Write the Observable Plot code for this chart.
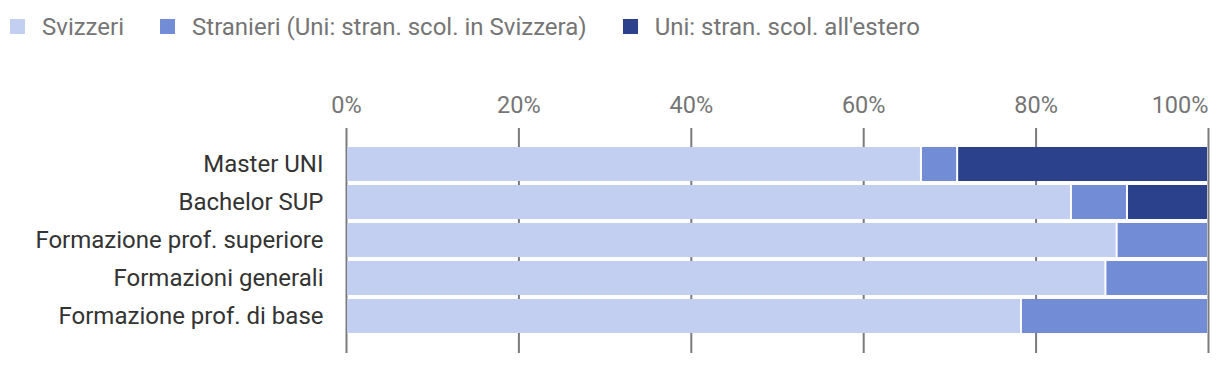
<!DOCTYPE html>
<html>
<head>
<meta charset="utf-8">
<script src="https://cdn.jsdelivr.net/npm/d3@7"></script>
<script src="https://cdn.jsdelivr.net/npm/@observablehq/plot@0.6"></script>
<style>
  html, body { margin: 0; padding: 0; background: #fff; }
  body { width: 1220px; height: 366px; overflow: hidden; font-family: Roboto, "Noto Sans", sans-serif; }
  #legend { height: 50px; display: flex; align-items: center; padding-left: 10px; padding-top: 3px; box-sizing: border-box; }
  .item { display: flex; align-items: center; margin-right: 36px; font-size: 24px; color: #757575; }
  .sw { width: 15px; height: 15px; margin-right: 17px; }
</style>
</head>
<body>
<div id="legend"></div>
<div id="chart"></div>
<script>
const categories = ["Master UNI", "Bachelor SUP", "Formazione prof. superiore", "Formazioni generali", "Formazione prof. di base"];
const seriesNames = ["Svizzeri", "Stranieri (Uni: stran. scol. in Svizzera)", "Uni: stran. scol. all'estero"];
const svizzeri = [66.7, 84.1, 89.4, 88.1, 78.3];
const stranieri = [4.2, 6.5, 10.6, 11.9, 21.7];
const estero = [29.1, 9.4, 0, 0, 0];
const colors = ["#c3cff1", "#738cd6", "#2b418c"];
const xTicks = [0, 20, 40, 60, 80, 100];

const seriesValues = [svizzeri, stranieri, estero];
const data = [];
seriesNames.forEach((s, si) => {
  categories.forEach((c, ci) => {
    data.push({category: c, series: s, value: seriesValues[si][ci]});
  });
});

const legend = document.getElementById("legend");
seriesNames.forEach((s, i) => {
  const it = document.createElement("div");
  it.className = "item";
  const sw = document.createElement("div");
  sw.className = "sw";
  sw.style.background = colors[i];
  const t = document.createElement("span");
  t.textContent = s;
  it.appendChild(sw); it.appendChild(t);
  legend.appendChild(it);
});

const pct = d => d + "%";
const plot = Plot.plot({
  width: 1220,
  height: 316,
  marginLeft: 346,
  marginRight: 12,
  marginTop: 78,
  marginBottom: 13,
  style: {fontFamily: "Roboto, sans-serif", background: "#fff"},
  x: {domain: [0, 100], ticks: xTicks},
  y: {domain: categories, paddingInner: 0.1, paddingOuter: 0.5},
  color: {domain: seriesNames, range: colors},
  marks: [
    Plot.gridX(xTicks, {stroke: "#7a7a7a", strokeWidth: 2, strokeOpacity: 1}),
    Plot.barX(data, Plot.stackX({x: "value", y: "category", fill: "series", order: seriesNames, insetLeft: 1, insetRight: 1})),
    Plot.axisX(xTicks.slice(0, -1), {anchor: "top", tickSize: 0, tickPadding: 16, tickFormat: pct, fontSize: 23.5, fill: "#757575", label: null}),
    Plot.axisX(xTicks.slice(-1), {anchor: "top", tickSize: 0, tickPadding: 16, tickFormat: pct, fontSize: 23.5, fill: "#757575", textAnchor: "end", label: null}),
    Plot.axisY({tickSize: 0, tickPadding: 23, fontSize: 24, fill: "#333", label: null})
  ]
});
document.getElementById("chart").appendChild(plot);
</script>
</body>
</html>
